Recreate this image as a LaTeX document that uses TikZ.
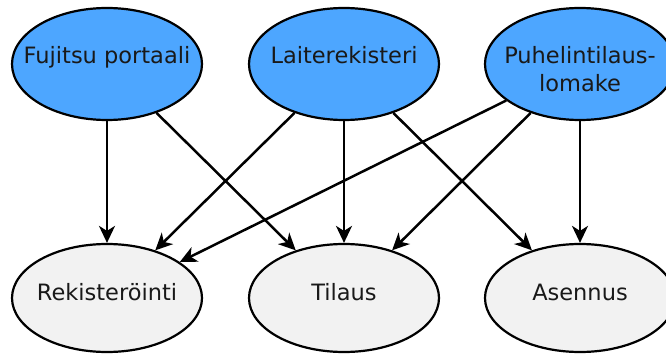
\documentclass[tikz,border=0pt]{standalone}
\usepackage{fontspec}
\setmainfont{DejaVu Sans}
\usetikzlibrary{shapes.geometric,arrows.meta}
\definecolor{srcblue}{RGB}{77,166,255}
\definecolor{dstgray}{RGB}{242,242,242}
\tikzset{
  srcnode/.style={ellipse,draw=black,line width=2.2pt,fill=srcblue,inner sep=0pt,minimum width=190pt,minimum height=112pt},
  dstnode/.style={ellipse,draw=black,line width=2.2pt,fill=dstgray,inner sep=0pt,minimum width=190pt,minimum height=108pt},
  lbl/.style={font=\fontsize{22.5pt}{28pt}\selectfont,text=black!90,inner sep=0pt,anchor=base},
  edge/.style={line width=2.5pt,-{Stealth[length=17pt,width=16pt,inset=5pt]}}
}
\begin{document}
\begin{tikzpicture}[x=1pt,y=-1pt]
\useasboundingbox (0,0) rectangle (666,355);
\node[srcnode] (fuj) at (107,64) {};
\node[srcnode] (lai) at (344,64) {};
\node[srcnode] (puh) at (580,64) {};
\node[dstnode] (rek) at (107,298) {};
\node[dstnode] (til) at (344,298) {};
\node[dstnode] (ase) at (580,298) {};
\node[lbl] (tfuj) at (107,64) {Fujitsu portaali};
\node[lbl] (tlai) at (344,64) {Laiterekisteri};
\node[lbl] (tpuh1) at (580,64) {Puhelintilaus-};
\node[lbl] (tpuh2) at (580,92) {lomake};
\node[lbl] (trek) at (107,300) {Rekisteröinti};
\node[lbl] (ttil) at (344,300) {Tilaus};
\node[lbl] (tase) at (580,300) {Asennus};
\draw[edge] (fuj) -- (rek);
\draw[edge] (fuj) -- (til);
\draw[edge] (lai) -- (rek);
\draw[edge] (lai) -- (til);
\draw[edge] (lai) -- (ase);
\draw[edge] (puh) -- (rek);
\draw[edge] (puh) -- (til);
\draw[edge] (puh) -- (ase);
\end{tikzpicture}
\end{document}
